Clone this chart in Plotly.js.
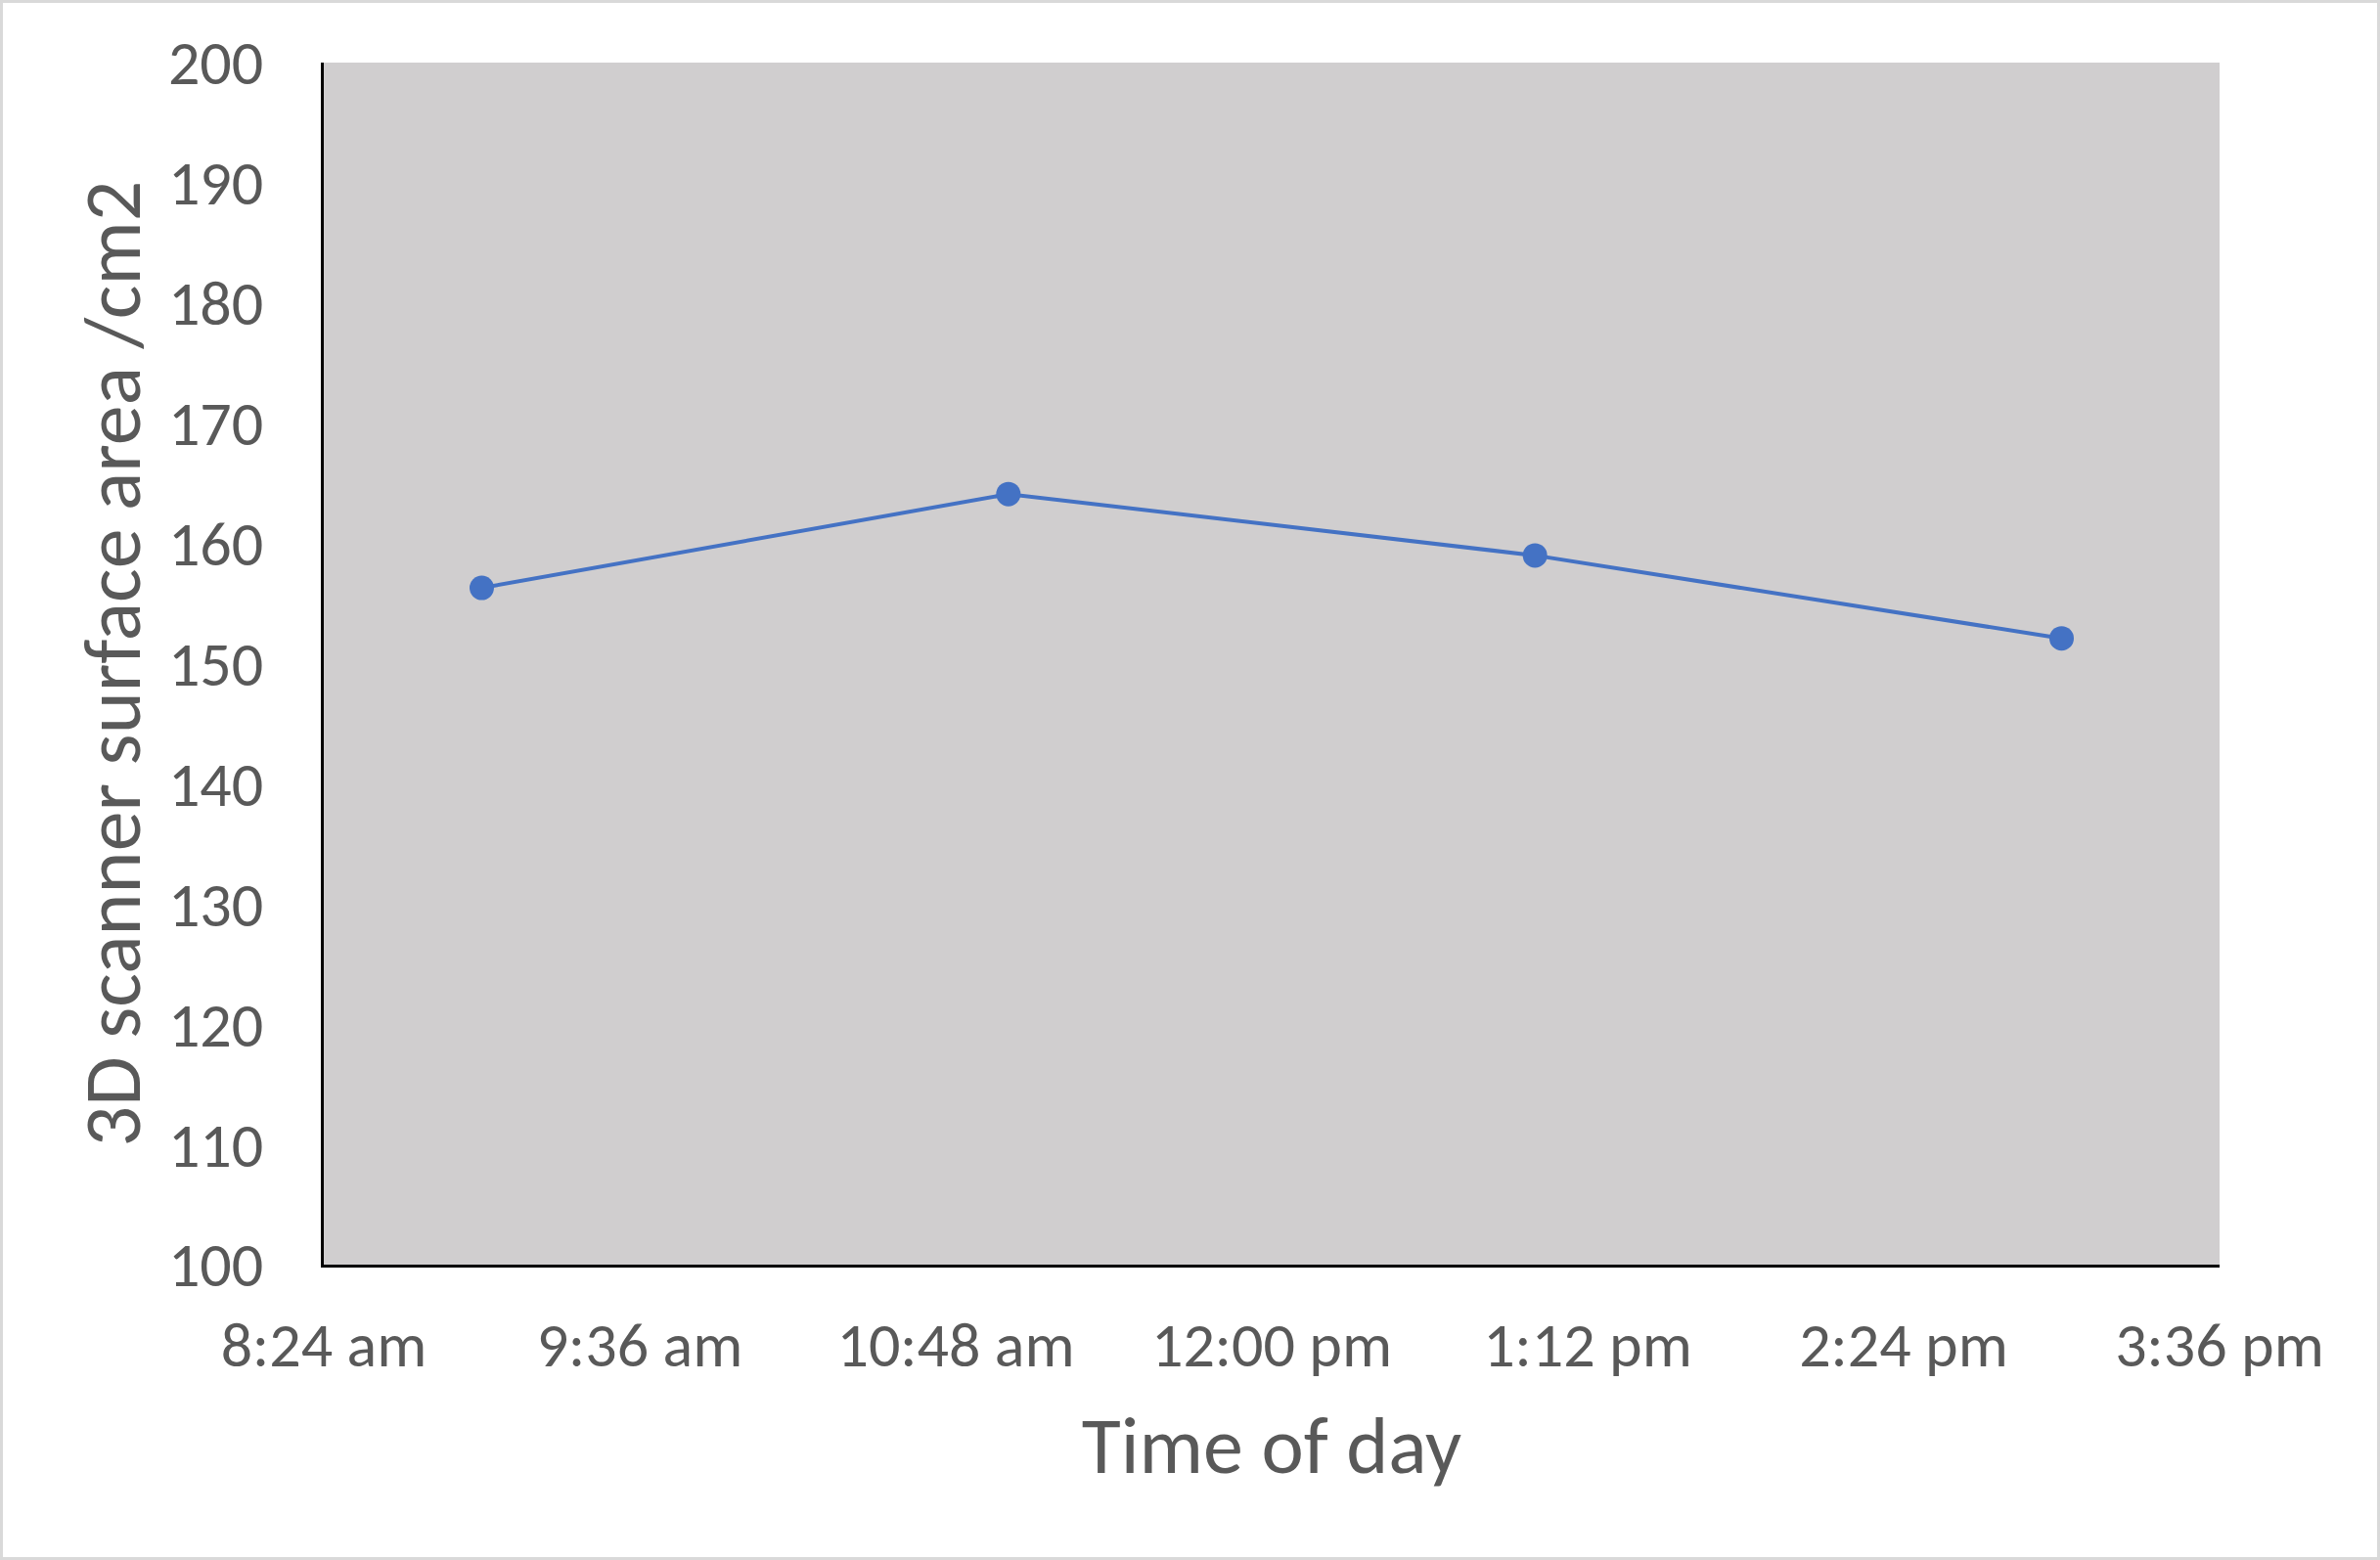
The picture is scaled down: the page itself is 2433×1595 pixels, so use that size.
<!DOCTYPE html>
<html>
<head>
<meta charset="utf-8">
<script src="https://cdn.plot.ly/plotly-3.0.1.min.js"></script>
<style>
html,body{margin:0;padding:0;background:#fff;}
#chart{width:2433px;height:1595px;box-sizing:border-box;border:3px solid #d9d9d9;}
</style>
</head>
<body>
<div id="chart"></div>
<script>
const times = ["2024-01-01 09:00", "2024-01-01 11:00", "2024-01-01 13:00", "2024-01-01 15:00"];
const areas = [156.3, 164.1, 159.0, 152.1];
const xTickVals = ["2024-01-01 08:24", "2024-01-01 09:36", "2024-01-01 10:48", "2024-01-01 12:00", "2024-01-01 13:12", "2024-01-01 14:24", "2024-01-01 15:36"];
const xTickText = ["8:24 am", "9:36 am", "10:48 am", "12:00 pm", "1:12 pm", "2:24 pm", "3:36 pm"];
const yTickVals = [100, 110, 120, 130, 140, 150, 160, 170, 180, 190, 200];

const font = "Carlito, Lato, 'Open Sans', sans-serif";
const textColor = "#595959";

Plotly.newPlot("chart", [{
  type: "scatter",
  mode: "lines+markers",
  x: times,
  y: areas,
  line: {color: "#4472C4", width: 4},
  marker: {color: "#4472C4", size: 25},
  showlegend: false,
  cliponaxis: false
}], {
  width: 2427,
  height: 1589,
  margin: {l: 328, r: 161, t: 61, b: 299},
  paper_bgcolor: "#ffffff",
  plot_bgcolor: "#D0CECF",
  font: {family: font, color: textColor},
  xaxis: {
    type: "date",
    range: [xTickVals[0], xTickVals[xTickVals.length - 1]],
    tickmode: "array",
    tickvals: xTickVals,
    ticktext: xTickText,
    tickfont: {size: 64, color: textColor, family: font},
    showgrid: false,
    zeroline: false,
    showline: true,
    linecolor: "#000000",
    linewidth: 3,
    ticks: "",
    ticklabelstandoff: 24,
    title: {text: "Time of day", font: {size: 82, color: textColor, family: font}, standoff: 36}
  },
  yaxis: {
    range: [100, 200],
    tickmode: "array",
    tickvals: yTickVals,
    tickfont: {size: 64, color: textColor, family: font},
    showgrid: false,
    zeroline: false,
    showline: true,
    linecolor: "#000000",
    linewidth: 3,
    ticks: "",
    ticklabelstandoff: 46,
    title: {text: "3D scanner surface area /cm2", font: {size: 82, color: textColor, family: font}, standoff: 2}
  }
}, {displayModeBar: false, staticPlot: true});
</script>
</body>
</html>
